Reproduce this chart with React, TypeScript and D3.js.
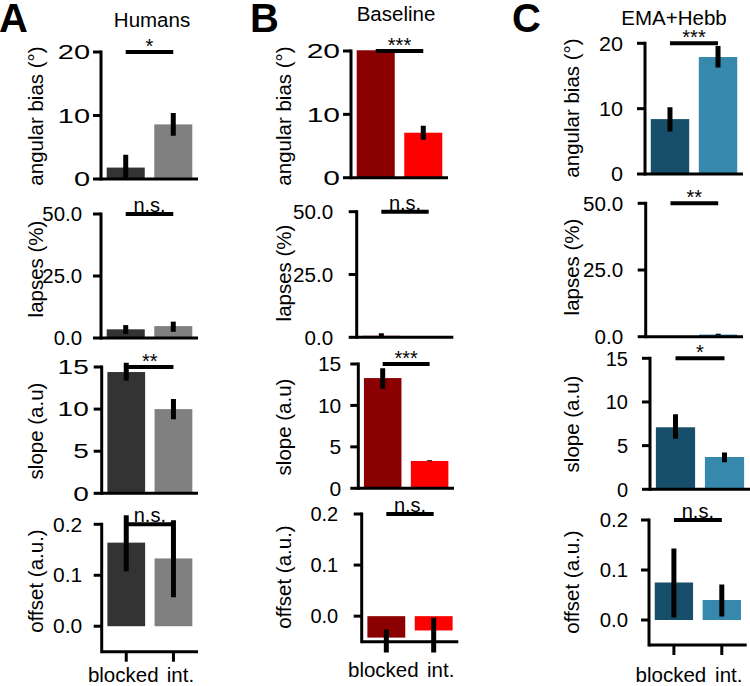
import React from 'react';
import * as d3 from 'd3';

// ---------- data ----------
const groups = ['Humans', 'Baseline', 'EMA+Hebb'];
const panelLetters = ['A', 'B', 'C'];
const metricLabels = ['angular bias (°)', 'lapses (%)', 'slope (a.u)', 'offset (a.u.)'];
const conditions = ['blocked', 'int.'];

const metricDomains = [[0, 20], [0, 50], [0, 15], [-0.05, 0.2]];
const metricTicks = [[0, 10, 20], [0, 25, 50], [0, 5, 10, 15], [0, 0.1, 0.2]];
const metricTickFormats = ['d', '.1f', 'd', '.1f'];
const metricClipTop = [20.1, 55, 16, 0.23];

const humansMeans = [[1.8, 8.6], [3.5, 4.8], [14.4, 10.0], [0.164, 0.133]];
const humansLow = [[0.2, 6.8], [1.6, 2.5], [13.4, 8.8], [0.108, 0.057]];
const humansHigh = [[3.8, 10.4], [5.2, 6.6], [15.5, 11.2], [0.218, 0.208]];
const humansSig = ['*', 'n.s.', '**', 'n.s.'];

const baselineMeans = [[26, 7.1], [0.6, 0], [13.3, 3.3], [-0.042, -0.028]];
const baselineLow = [[24, 6.0], [0.2, 0], [12.0, 3.25], [-0.071, -0.071]];
const baselineHigh = [[28, 8.2], [1.6, 0], [14.5, 3.4], [-0.026, -0.003]];
const baselineSig = ['***', 'n.s.', '***', 'n.s.'];

const emaMeans = [[8.4, 17.9], [0, 0.8], [7.1, 3.7], [0.075, 0.04]];
const emaLow = [[6.5, 16.3], [0, 0.6], [5.8, 3.1], [0.005, 0.007]];
const emaHigh = [[10.2, 19.6], [0, 1.1], [8.6, 4.2], [0.143, 0.071]];
const emaSig = ['***', '**', '*', 'n.s.'];

const humansColors = ['#333333', '#808080'];
const baselineColors = ['#8b0000', '#ff0000'];
const emaColors = ['#174f6a', '#3689ad'];

// ---------- layout ----------
const FONT = 'Liberation Sans, Arial, sans-serif';
const columns = [
  {
    means: humansMeans, low: humansLow, high: humansHigh, sig: humansSig, colors: humansColors,
    letterX: -1, titleX: 152, titleY: 27, labelX: 36,
    axes: [[101, 198, 179, 52], [101, 198, 338, 214], [101.7, 198, 493.3, 367], [101.7, 198, 651.7, 524.3]],
    tickStyle: [[11, 1.45], [19, 1.02], [13, 1.4], [19.5, 1.05]],
    labelY: [116, 269, 431, 581], xLabelY: 682,
  },
  {
    means: baselineMeans, low: baselineLow, high: baselineHigh, sig: baselineSig, colors: baselineColors,
    letterX: 250, titleX: 396, titleY: 21, labelX: 284,
    axes: [[351, 448, 177.7, 51], [356.7, 453.3, 337.3, 211.7], [358.3, 454, 488.3, 364], [361.7, 458.3, 641.7, 514]],
    tickStyle: [[11, 1.5], [23.5, 1.03], [17, 1.05], [23.5, 1.0]],
    labelY: [116, 273, 427, 577], xLabelY: 677,
  },
  {
    means: emaMeans, low: emaLow, high: emaHigh, sig: emaSig, colors: emaColors,
    letterX: 512, titleX: 674, titleY: 25, labelX: 572,
    axes: [[645, 743, 174, 43.3], [645.7, 743, 336.7, 203.3], [650, 750, 489.3, 358.3], [649, 746.7, 645, 520]],
    tickStyle: [[22, 1.08], [22.5, 1.03], [22, 1.0], [21, 1.02]],
    labelY: [108, 267, 424, 582], xLabelY: 682,
  },
];

function Panel({ col, ci, mi }: any) {
  const [ax, right, yb, yt] = col.axes[mi];
  const [pad, sx] = col.tickStyle[mi];
  const dom = metricDomains[mi];
  const y = d3.scaleLinear().domain(dom).range([yb, yt]);
  const x = d3.scaleLinear().domain([-0.52, 1.52]).range([ax, right]);
  const bw = x(0.8) - x(0);
  const fmt = d3.format(metricTickFormats[mi]);
  const clipId = `clip-${ci}-${mi}`;
  const clipY = y(metricClipTop[mi]);
  const means = col.means[mi];
  const isBottom = mi === 3;
  const sigY = y(dom[1]);
  const sigText = col.sig[mi];
  return (
    <g>
      <defs>
        <clipPath id={clipId}>
          <rect x={ax} y={clipY} width={right - ax + 10} height={700 - clipY} />
        </clipPath>
      </defs>
      <g clipPath={`url(#${clipId})`}>
        {means.map((v: number, i: number) => (
          v === 0 ? null :
            <rect key={i} x={x(i) - bw / 2} width={bw}
              y={y(Math.max(0, v))} height={Math.abs(y(v) - y(0))}
              fill={col.colors[i]} />
        ))}
        {means.map((v: number, i: number) => {
          const lo = col.low[mi][i], hi = col.high[mi][i];
          if (lo === hi) return null;
          return <line key={'e' + i} x1={x(i)} x2={x(i)} y1={y(lo)} y2={y(hi)} stroke="#000" strokeWidth={5} />;
        })}
      </g>
      {/* spines */}
      <line x1={ax} x2={ax} y1={yt} y2={yb} stroke="#000" strokeWidth={3} strokeLinecap="square" />
      <line x1={ax} x2={right} y1={yb} y2={yb} stroke="#000" strokeWidth={3} />
      {metricTicks[mi].map((t) => (
        <g key={t}>
          <line x1={ax - 8} x2={ax} y1={y(t)} y2={y(t)} stroke="#000" strokeWidth={3} />
          <text transform={`translate(${ax - pad},${y(t)}) scale(${sx},1)`} dy="0.36em" textAnchor="end"
            fontSize={20} fontFamily={FONT}>{fmt(t)}</text>
        </g>
      ))}
      {isBottom && conditions.map((c, i) => (
        <g key={c}>
          <line x1={x(i)} x2={x(i)} y1={yb} y2={yb + 10} stroke="#000" strokeWidth={3} />
          <text x={x(i) + (i === 0 ? -3 : 7)} y={col.xLabelY} textAnchor="middle" fontSize={20.5} fontFamily={FONT}>{c}</text>
        </g>
      ))}
      {/* y label */}
      <text transform={`translate(${col.labelX},${col.labelY[mi]}) rotate(-90)`} textAnchor="middle" dy="0.36em"
        fontSize={20.5} fontFamily={FONT}>{metricLabels[mi]}</text>
      {/* significance */}
      <line x1={x(0)} x2={x(1)} y1={sigY} y2={sigY} stroke="#000" strokeWidth={4} />
      <text x={(x(0) + x(1)) / 2} y={sigY + (sigText === 'n.s.' ? -2 : 1)} textAnchor="middle" fontSize={20} fontFamily={FONT}>{sigText}</text>
    </g>
  );
}

export default function App() {
  return (
    <svg width={750} height={686} style={{ position: 'absolute', left: 0, top: 0, background: '#fff' }}>
      <rect width={750} height={686} fill="#fff" />
      {columns.map((col, ci) => (
        <g key={ci}>
          <text x={col.letterX} y={32} fontSize={40} fontWeight="bold" fontFamily={FONT}>{panelLetters[ci]}</text>
          <text x={col.titleX} y={col.titleY} textAnchor="middle" fontSize={20.5} fontFamily={FONT}>{groups[ci]}</text>
          {metricLabels.map((_, mi) => <Panel key={mi} col={col} ci={ci} mi={mi} />)}
        </g>
      ))}
    </svg>
  );
}
